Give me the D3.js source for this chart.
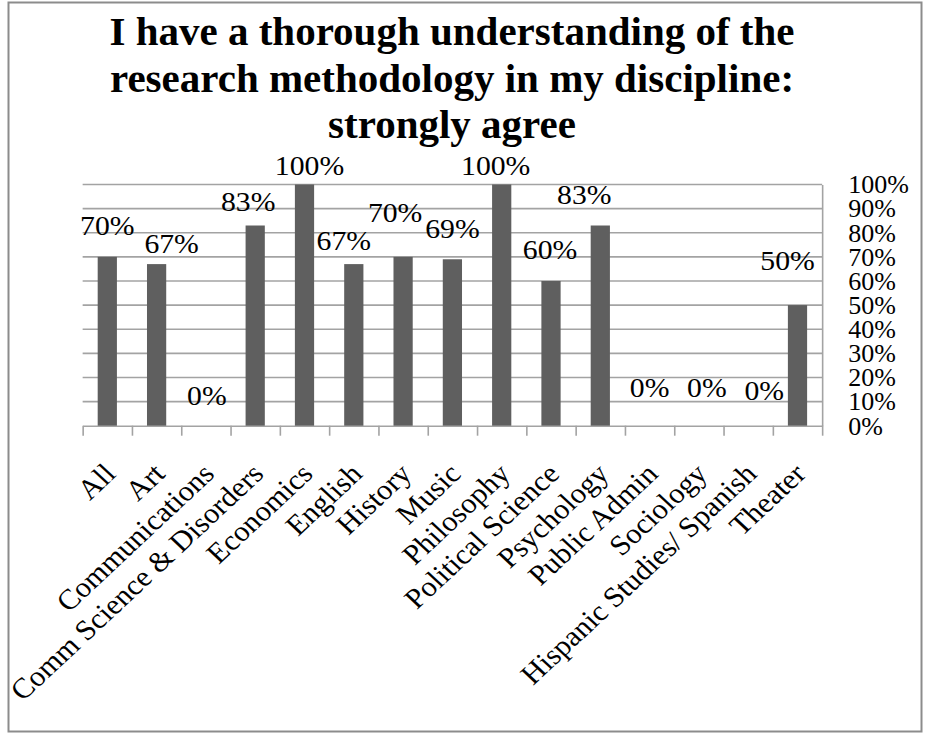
<!DOCTYPE html>
<html>
<head>
<meta charset="utf-8">
<script src="https://cdn.jsdelivr.net/npm/d3@7"></script>
<style>
  html, body { margin: 0; padding: 0; background: #fff; }
  svg { display: block; }
  text { font-family: "Liberation Serif", "Times New Roman", serif; fill: #000; }
</style>
</head>
<body>
<svg id="chart" width="926" height="733"></svg>
<script>
// Departments surveyed
const categories = [
  "All", "Art", "Communications", "Comm Science & Disorders", "Economics",
  "English", "History", "Music", "Philosophy", "Political Science",
  "Psychology", "Public Admin", "Sociology", "Hispanic Studies/ Spanish", "Theater"
];
// Share answering "strongly agree" (percent)
const strongAgree = [70, 67, 0, 83, 100, 67, 70, 69, 100, 60, 83, 0, 0, 0, 50];
// Value axis ticks
const yTickValues = [0, 10, 20, 30, 40, 50, 60, 70, 80, 90, 100];
const yTickLabels = ["0%", "10%", "20%", "30%", "40%", "50%", "60%", "70%", "80%", "90%", "100%"];
const titleLines = [
  "I have a thorough understanding of the",
  "research methodology in my discipline:",
  "strongly agree"
];
// Hand-placed value labels: [horizontal shift, gap above bar top] in px
const labelPlacement = [
  [0, 22], [15, 11], [1, 21], [-7, 15], [5, 10], [-10, 14], [-8, 35], [0, 21],
  [-6, 10], [-1, 22], [-16, 22], [0, 29], [8, 29], [16, 26], [-10, 35]
];

const svg = d3.select("#chart");
const plot = { left: 82.65, right: 822.15, top: 184.5, bottom: 425.7 };
const gridColor = "#a3a3a3";
const barColor = "#5f5f5f";

// Outer chart frame
svg.append("rect")
  .attr("x", 8.5).attr("y", 2.5)
  .attr("width", 913).attr("height", 729)
  .attr("fill", "none").attr("stroke", "#8c8c8c").attr("stroke-width", 2);

// Title
svg.append("g").selectAll("text")
  .data(titleLines)
  .join("text")
  .attr("x", 452)
  .attr("y", (d, i) => 45 + i * 46.6)
  .attr("text-anchor", "middle")
  .style("font-size", "41px")
  .style("font-weight", "bold")
  .text(d => d);

const x = d3.scaleBand()
  .domain(categories)
  .range([plot.left, plot.right])
  .paddingInner(0.61)
  .paddingOuter(0.305);

const y = d3.scaleLinear()
  .domain([0, 100])
  .range([plot.bottom, plot.top]);

// Horizontal gridlines
svg.append("g").selectAll("line")
  .data(yTickValues.filter(v => v > 0))
  .join("line")
  .attr("x1", plot.left).attr("x2", plot.right)
  .attr("y1", d => y(d)).attr("y2", d => y(d))
  .attr("stroke", gridColor).attr("stroke-width", 1.6);

// Right value axis
const yAxis = svg.append("g")
  .attr("transform", `translate(${plot.right},0)`)
  .call(d3.axisRight(y)
    .tickValues(yTickValues)
    .tickSize(0)
    .tickPadding(26)
    .tickFormat((d, i) => yTickLabels[i]));
yAxis.select(".domain").attr("stroke", gridColor).attr("stroke-width", 1.6);
yAxis.selectAll("text")
  .style("font-family", "'Liberation Serif', 'Times New Roman', serif")
  .style("font-size", "26px")
  .attr("fill", "#000");

// Category axis with ticks on band boundaries
const boundary = d3.scaleLinear().domain([0, categories.length]).range([plot.left, plot.right]);
const xAxis = svg.append("g")
  .attr("transform", `translate(0,${plot.bottom})`)
  .call(d3.axisBottom(boundary)
    .tickValues(d3.range(categories.length + 1))
    .tickSize(10)
    .tickSizeOuter(0)
    .tickFormat(""));
xAxis.select(".domain").attr("stroke", gridColor).attr("stroke-width", 1.6);
xAxis.selectAll(".tick line").attr("stroke", gridColor).attr("stroke-width", 1.6);

// Bars
svg.append("g").selectAll("rect")
  .data(strongAgree)
  .join("rect")
  .attr("x", (d, i) => x(categories[i]))
  .attr("width", x.bandwidth())
  .attr("y", d => y(d))
  .attr("height", d => y(0) - y(d))
  .attr("fill", barColor);

// Value labels
svg.append("g").selectAll("text")
  .data(strongAgree)
  .join("text")
  .attr("text-anchor", "middle")
  .attr("transform", (d, i) => {
    const cx = x(categories[i]) + x.bandwidth() / 2 + labelPlacement[i][0];
    const by = y(d) - labelPlacement[i][1];
    return `translate(${cx},${by}) scale(1.1,1)`;
  })
  .style("font-size", "27px")
  .text(d => d + "%");

// Slanted category labels
svg.append("g").selectAll("text")
  .data(categories)
  .join("text")
  .attr("text-anchor", "end")
  .attr("transform", d => `translate(${x(d) + x.bandwidth() / 2 + 10},475.5) scale(1.07,1) rotate(-45)`)
  .style("font-size", "28.5px")
  .text(d => d);
</script>
</body>
</html>
